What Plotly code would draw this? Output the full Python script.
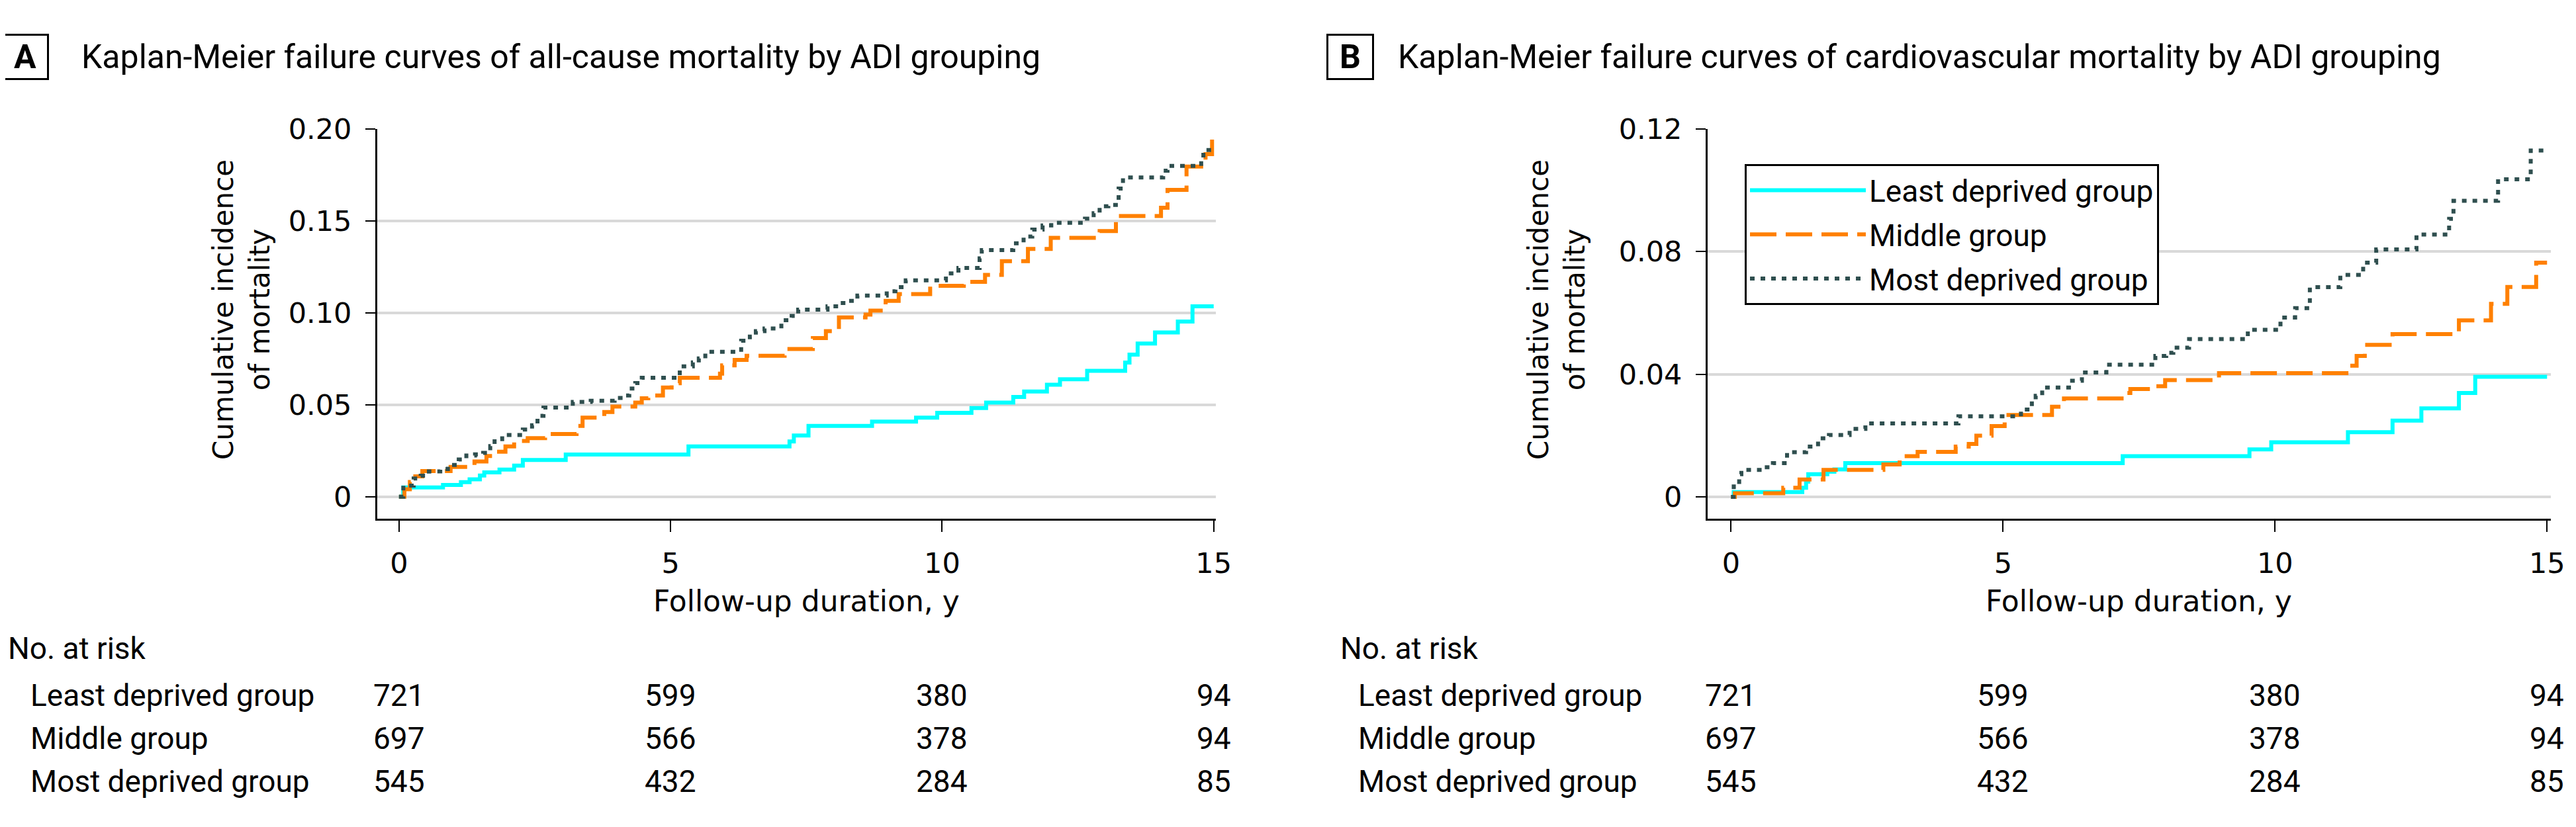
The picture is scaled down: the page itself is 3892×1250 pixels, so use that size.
import plotly.graph_objects as go

# ---- data ----
years_ticks = [0, 5, 10, 15]

# Panel A: all-cause mortality
a_least_t = [0, 0.08, 0.81, 1.14, 1.30, 1.49, 1.57, 1.85, 2.12, 2.28, 3.07, 5.33, 7.19, 7.27,
             7.54, 8.71, 9.52, 9.91, 10.54, 10.81, 11.31, 11.51, 11.93, 12.17, 12.67, 13.37,
             13.45, 13.6, 13.92, 14.34, 14.61, 15.0]
a_least_v = [0, 0.005, 0.0064, 0.0079, 0.0094, 0.0115, 0.0132, 0.0147, 0.0169, 0.0199, 0.0229,
             0.0273, 0.030, 0.0333, 0.0385, 0.0408, 0.0430, 0.0456, 0.0482, 0.0512, 0.0542,
             0.0572, 0.0609, 0.0639, 0.0684, 0.0729, 0.0773, 0.0833, 0.0893, 0.0953, 0.1035,
             0.1035]

a_mid_t = [0, 0.1, 0.2, 0.3, 0.43, 0.95, 1.39, 1.61, 1.74, 1.96, 2.12, 2.37, 2.69, 3.27, 3.38,
           3.78, 3.93, 4.35, 4.47, 4.59, 4.86, 5.02, 5.17, 5.91, 5.95, 6.18, 6.4, 7.1, 7.62,
           7.86, 8.1, 8.59, 8.68, 8.96, 9.2, 9.78, 10.4, 10.79, 11.1, 11.58, 12.0, 12.9, 13.2,
           14.03, 14.15, 14.5, 14.85, 14.97, 15.0]
a_mid_v = [0, 0.004, 0.008, 0.011, 0.0139, 0.0162, 0.0191, 0.0221, 0.0244, 0.0273, 0.0303,
           0.0318, 0.0341, 0.0385, 0.043, 0.046, 0.049, 0.0512, 0.0535, 0.055, 0.0594, 0.0617,
           0.0647, 0.0669, 0.0714, 0.0744, 0.0766, 0.0803, 0.0863, 0.090, 0.0975, 0.099, 0.1012,
           0.1065, 0.1102, 0.1147, 0.1169, 0.1206, 0.1281, 0.1348, 0.1408, 0.1445, 0.1527,
           0.1572, 0.1669, 0.1796, 0.1863, 0.1945, 0.1945]

a_most_t = [0, 0.08, 0.27, 0.4, 0.55, 0.76, 0.9, 1.1, 1.24, 1.4, 1.55, 1.68, 1.76, 1.9, 2.28,
            2.45, 2.55, 2.66, 3.2, 3.53, 3.97, 4.12, 4.24, 4.35, 4.47, 5.17, 5.41, 5.52, 5.64,
            6.3, 6.46, 6.57, 6.73, 7.04, 7.23, 7.35, 7.89, 8.09, 8.28, 8.44, 8.98, 9.14, 9.33,
            10.07, 10.3, 10.69, 10.73, 11.31, 11.5, 11.66, 11.85, 12.01, 12.63, 12.79, 12.9,
            13.06, 13.25, 13.33, 14.07, 14.15, 14.77, 14.81, 15.0]
a_most_v = [0, 0.006, 0.0099, 0.0114, 0.0137, 0.015, 0.0172, 0.0202, 0.0224, 0.023, 0.0238,
            0.0275, 0.0313, 0.0335, 0.0365, 0.0388, 0.044, 0.0485, 0.0515, 0.0522, 0.0537,
            0.055, 0.0588, 0.0618, 0.0647, 0.0709, 0.073, 0.0752, 0.0788, 0.0848, 0.0871, 0.090,
            0.0915, 0.096, 0.0983, 0.1017, 0.1035, 0.1053, 0.1065, 0.1094, 0.1117, 0.114,
            0.1177, 0.1214, 0.1244, 0.1296, 0.1341, 0.1378, 0.1415, 0.1453, 0.1475, 0.149,
            0.1512, 0.1542, 0.158, 0.1587, 0.1676, 0.1736, 0.1773, 0.1799, 0.184, 0.1886, 0.1886]

# Panel B: cardiovascular mortality
b_least_t = [0, 0.05, 1.31, 1.38, 1.42, 1.77, 1.9, 2.1, 7.2, 9.53, 9.93, 11.34, 12.16, 12.69,
             13.38, 13.68, 15.0]
b_least_v = [0, 0.0016, 0.003, 0.005, 0.0074, 0.0082, 0.009, 0.011, 0.0133, 0.0155, 0.0178,
             0.0211, 0.0249, 0.0289, 0.0339, 0.0392, 0.0392]

b_mid_t = [0, 0.07, 0.96, 1.26, 1.7, 2.8, 3.1, 3.43, 4.13, 4.37, 4.51, 4.79, 5.03, 5.1, 5.9,
           6.12, 7.18, 7.34, 7.7, 7.98, 8.97, 11.37, 11.5, 11.65, 12.16, 13.38, 13.97, 14.27,
           14.8, 15.0]
b_mid_v = [0, 0.0012, 0.003, 0.0057, 0.0088, 0.0106, 0.0133, 0.0147, 0.0164, 0.0173, 0.020,
           0.0231, 0.0249, 0.0267, 0.0294, 0.0321, 0.0339, 0.0352, 0.0361, 0.0381, 0.0404,
           0.0428, 0.046, 0.0496, 0.0531, 0.0576, 0.063, 0.0685, 0.0764, 0.0764]

b_most_t = [0, 0.05, 0.15, 0.19, 0.62, 0.77, 1.03, 1.38, 1.6, 1.8, 2.18, 2.47, 4.18, 5.33,
            5.53, 5.6, 5.72, 6.27, 6.45, 6.9, 7.8, 8.0, 8.13, 8.42, 9.5, 10.1, 10.37, 10.64,
            11.2, 11.62, 11.86, 12.6, 13.2, 13.28, 14.1, 14.7, 15.0]
b_most_v = [0, 0.0034, 0.0074, 0.0088, 0.0097, 0.011, 0.0146, 0.0164, 0.0191, 0.0202, 0.0222,
            0.024, 0.0263, 0.0285, 0.0312, 0.033, 0.0357, 0.0379, 0.0406, 0.0431, 0.046, 0.047,
            0.0487, 0.0515, 0.0545, 0.0585, 0.0616, 0.0684, 0.0724, 0.0764, 0.0807, 0.0856,
            0.0907, 0.0966, 0.1036, 0.113, 0.113]

group_names = ["Least deprived group", "Middle group", "Most deprived group"]
least_at_risk = [721, 599, 380, 94]
middle_at_risk = [697, 566, 378, 94]
most_at_risk = [545, 432, 284, 85]

a_yticks = [0, 0.05, 0.10, 0.15, 0.20]
a_yticktext = ["0", "0.05", "0.10", "0.15", "0.20"]
b_yticks = [0, 0.04, 0.08, 0.12]
b_yticktext = ["0", "0.04", "0.08", "0.12"]

title_a = "Kaplan-Meier failure curves of all-cause mortality by ADI grouping"
title_b = "Kaplan-Meier failure curves of cardiovascular mortality by ADI grouping"

# ---- styling ----
W, H = 3892, 1250
OX, OY = 8, 10  # page body offset of the plot div
AX_FONT = "DejaVu Sans"
TXT_FONT = "Roboto"
colors = ["#00FFFF", "#FF8000", "#2F4F4F"]
dashes = ["solid", "40px,14px", "7px,9px"]


def px_x(p):
    return (p - OX) / W


def px_y(p):
    return 1 - (p - OY) / H


fig = go.Figure()

panel_series = [
    ("x", "y", [(a_least_t, a_least_v), (a_mid_t, a_mid_v), (a_most_t, a_most_v)], False),
    ("x2", "y2", [(b_least_t, b_least_v), (b_mid_t, b_mid_v), (b_most_t, b_most_v)], True),
]
for xa, ya, series, show in panel_series:
    for i, (t, v) in enumerate(series):
        fig.add_trace(
            go.Scatter(
                x=t,
                y=v,
                mode="lines",
                line=dict(color=colors[i], width=6, dash=dashes[i], shape="hv"),
                name=group_names[i],
                legendgroup=group_names[i],
                showlegend=show,
                xaxis=xa,
                yaxis=ya,
            )
        )

common_x = dict(
    tickvals=years_ticks,
    ticks="outside",
    ticklen=17,
    tickwidth=2,
    tickcolor="black",
    showline=True,
    linecolor="black",
    linewidth=3,
    showgrid=False,
    zeroline=False,
    automargin=False,
    tickfont=dict(family=AX_FONT, size=43, color="black"),
    ticklabelstandoff=10,
)
common_y = dict(
    ticks="outside",
    ticklen=15,
    tickwidth=2,
    tickcolor="black",
    showline=True,
    linecolor="black",
    linewidth=3,
    showgrid=True,
    gridcolor="#D9D9D9",
    gridwidth=4,
    zeroline=False,
    automargin=False,
    tickfont=dict(family=AX_FONT, size=43, color="black"),
    ticklabelstandoff=12,
)
y_dom = [px_y(786), px_y(197)]

fig.update_layout(
    width=W,
    height=H,
    autosize=False,
    margin=dict(l=0, r=0, t=0, b=0, pad=0, autoexpand=False),
    paper_bgcolor="white",
    plot_bgcolor="white",
    xaxis=dict(domain=[px_x(570), px_x(1837)], range=[-0.4, 15.04], anchor="y", **common_x),
    yaxis=dict(domain=y_dom, range=[-0.012, 0.20], anchor="x",
               tickvals=a_yticks, ticktext=a_yticktext, **common_y),
    xaxis2=dict(domain=[px_x(2580), px_x(3854)], range=[-0.43, 15.07], anchor="y2", **common_x),
    yaxis2=dict(domain=y_dom, range=[-0.0071, 0.12], anchor="x2",
                tickvals=b_yticks, ticktext=b_yticktext, **common_y),
    legend=dict(
        x=px_x(2636),
        y=px_y(250),
        xanchor="left",
        yanchor="top",
        bordercolor="black",
        borderwidth=3,
        bgcolor="white",
        font=dict(family=TXT_FONT, size=46, color="black"),
        itemwidth=175,
        tracegroupgap=4,
    ),
)

annotations = []
panels = [
    ("A", title_a, 38, 121, "x", 365, 10, 44),
    ("B", title_b, 2040, 2110, "x2", 2352, 2023, 2050),
]
for letter, title, box_x, title_x, xref, ytitle_x, norisk_x, row_x in panels:
    annotations.append(dict(
        text="<b>%s</b>" % letter, x=px_x(box_x), y=px_y(88), xref="paper", yref="paper",
        showarrow=False, xanchor="center", yanchor="middle", width=66, height=64,
        borderpad=0, bordercolor="black", borderwidth=3,
        font=dict(family=TXT_FONT, size=50, color="black"),
    ))
    annotations.append(dict(
        text=title, x=px_x(title_x), y=px_y(88), xref="paper", yref="paper",
        showarrow=False, xanchor="left", yanchor="middle",
        font=dict(family=TXT_FONT, size=50, color="black"),
    ))
    annotations.append(dict(
        text="Cumulative incidence<br>of mortality", x=px_x(ytitle_x), y=px_y(470),
        xref="paper", yref="paper", showarrow=False, textangle=-90,
        xanchor="center", yanchor="middle",
        font=dict(family=AX_FONT, size=42, color="black"),
    ))
    annotations.append(dict(
        text="Follow-up duration, y", x=7.5, y=px_y(910), xref=xref, yref="paper",
        showarrow=False, xanchor="center", yanchor="middle",
        font=dict(family=AX_FONT, size=44, color="black"),
    ))
    annotations.append(dict(
        text="No. at risk", x=px_x(norisk_x), y=px_y(982), xref="paper", yref="paper",
        showarrow=False, xanchor="left", yanchor="middle",
        font=dict(family=TXT_FONT, size=46, color="black"),
    ))
    for name, counts, row_y in zip(group_names, [least_at_risk, middle_at_risk, most_at_risk],
                                   [1053, 1118, 1183]):
        annotations.append(dict(
            text=name, x=px_x(row_x), y=px_y(row_y), xref="paper", yref="paper",
            showarrow=False, xanchor="left", yanchor="middle",
            font=dict(family=TXT_FONT, size=46, color="black"),
        ))
        for t, n in zip(years_ticks, counts):
            annotations.append(dict(
                text=str(n), x=t, y=px_y(row_y), xref=xref, yref="paper",
                showarrow=False, xanchor="center", yanchor="middle",
                font=dict(family=TXT_FONT, size=46, color="black"),
            ))

fig.update_layout(annotations=annotations)

fig.write_html("out.html")
